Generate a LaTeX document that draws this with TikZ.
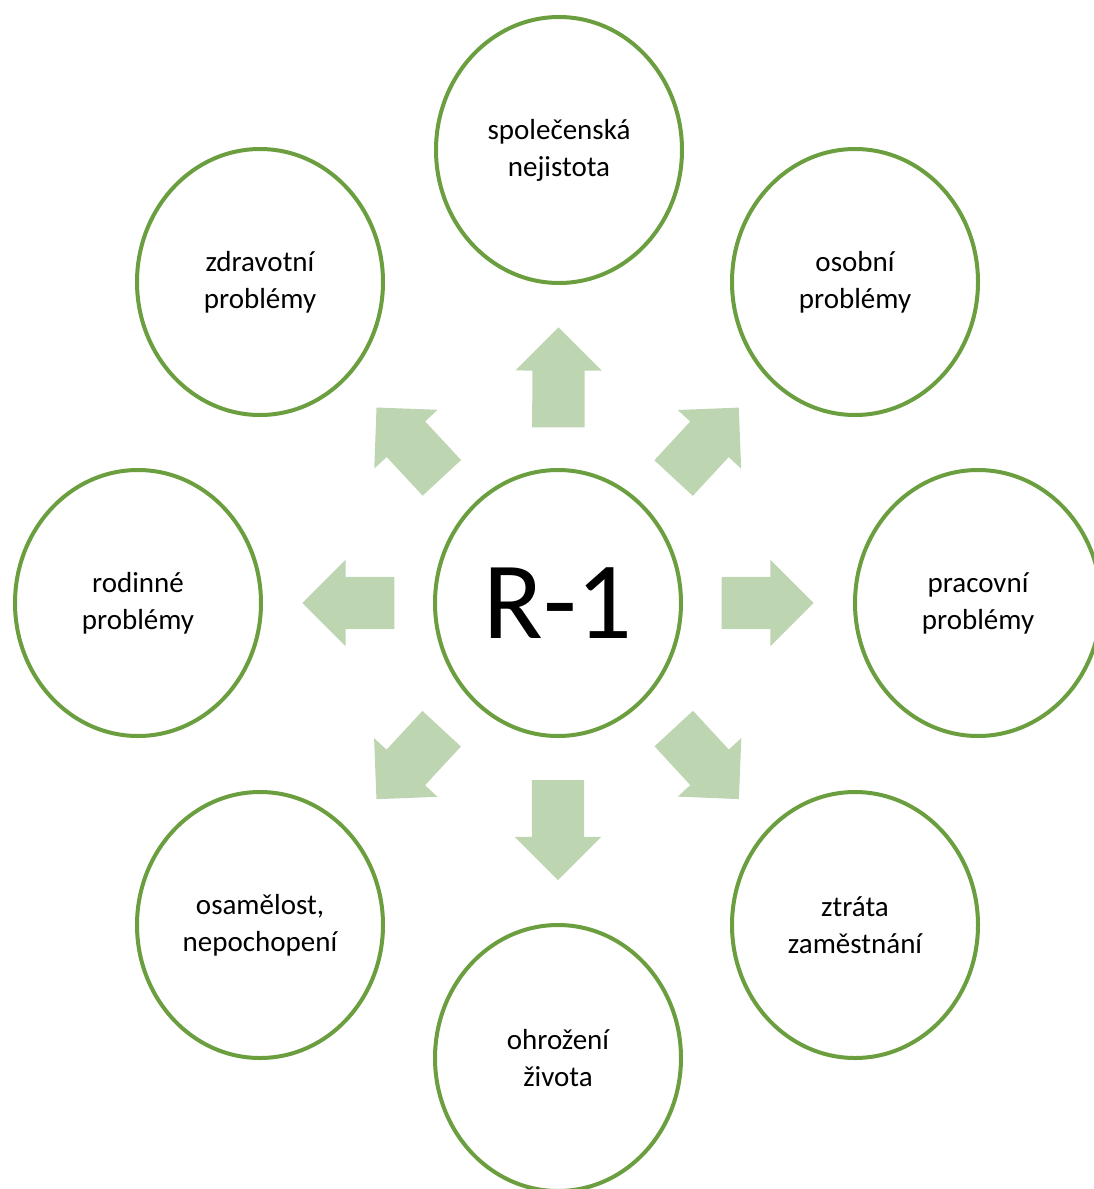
\documentclass[tikz,border=0pt]{standalone}
\usepackage{fontspec}
\setmainfont{Carlito}
\usetikzlibrary{shapes.geometric,shapes.arrows,calc}
\definecolor{ringgreen}{RGB}{106,158,63}
\definecolor{flowgreen}{RGB}{189,213,176}

\begin{document}
\begin{tikzpicture}[x=1pt,y=-1pt,
  bubble/.style={ellipse,draw=ringgreen,line width=4pt,fill=white,minimum width=246pt,minimum height=266pt,inner sep=0pt,align=center,font=\fontsize{29}{37}\selectfont},
  flow/.style={single arrow,fill=flowgreen,draw=none,minimum height=#1,minimum width=86pt,single arrow head extend=17pt,inner xsep=0pt,inner ysep=26pt,sloped,allow upside down,anchor=tip,pos=0.77}]
\clip (0,0) rectangle (1094,1189);
% centre and the eight causes
\node[bubble,font=\fontsize{110}{120}\selectfont] (c) at (558,603) {R-1};
\node[bubble] (t) at (559,150) {společenská\\nejistota};
\node[bubble] (tr) at (855,282) {osobní\\problémy};
\node[bubble] (r) at (978,603) {pracovní\\problémy};
\node[bubble] (br) at (855,925) {ztráta\\zaměstnání};
\node[bubble] (b) at (558,1058) {ohrožení\\života};
\node[bubble] (bl) at (260,925) {osamělost,\\nepochopení};
\node[bubble] (l) at (138,603) {rodinné\\problémy};
\node[bubble] (tl) at (260,282) {zdravotní\\problémy};
% block arrows
\path (c) -- node[flow=100pt] (ft) {} (t);
\path (c) -- node[flow=96pt] (ftr) {} (tr);
\path (c) -- node[flow=92pt] (fr) {} (r);
\path (c) -- node[flow=96pt] (fbr) {} (br);
\path (c) -- node[flow=100pt] (fb) {} (b);
\path (c) -- node[flow=96pt] (fbl) {} (bl);
\path (c) -- node[flow=92pt] (fl) {} (l);
\path (c) -- node[flow=96pt] (ftl) {} (tl);
\end{tikzpicture}
\end{document}
